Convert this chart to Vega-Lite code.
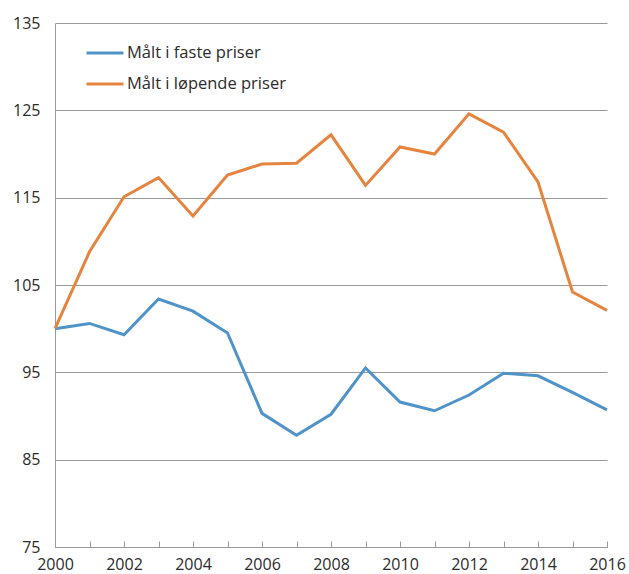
{
  "$schema": "https://vega.github.io/schema/vega-lite/v6.json",
  "width": 552,
  "height": 524,
  "autosize": {"type": "none"},
  "padding": {"left": 55, "top": 23, "right": 22, "bottom": 27},
  "background": "white",
  "config": {
    "view": {"stroke": null},
    "font": "Open Sans",
    "axis": {"labelFont": "Open Sans", "labelColor": "#2b2b2b", "labelFontSize": 16}
  },
  "data": {
    "values": [
      {"year": 2000, "serie": "Målt i faste priser", "value": 100.0},
      {"year": 2001, "serie": "Målt i faste priser", "value": 100.6},
      {"year": 2002, "serie": "Målt i faste priser", "value": 99.3},
      {"year": 2003, "serie": "Målt i faste priser", "value": 103.4},
      {"year": 2004, "serie": "Målt i faste priser", "value": 102.0},
      {"year": 2005, "serie": "Målt i faste priser", "value": 99.5},
      {"year": 2006, "serie": "Målt i faste priser", "value": 90.3},
      {"year": 2007, "serie": "Målt i faste priser", "value": 87.8},
      {"year": 2008, "serie": "Målt i faste priser", "value": 90.2},
      {"year": 2009, "serie": "Målt i faste priser", "value": 95.5},
      {"year": 2010, "serie": "Målt i faste priser", "value": 91.6},
      {"year": 2011, "serie": "Målt i faste priser", "value": 90.6},
      {"year": 2012, "serie": "Målt i faste priser", "value": 92.4},
      {"year": 2013, "serie": "Målt i faste priser", "value": 94.9},
      {"year": 2014, "serie": "Målt i faste priser", "value": 94.6},
      {"year": 2015, "serie": "Målt i faste priser", "value": 92.7},
      {"year": 2016, "serie": "Målt i faste priser", "value": 90.7},
      {"year": 2000, "serie": "Målt i løpende priser", "value": 100.0},
      {"year": 2001, "serie": "Målt i løpende priser", "value": 108.8},
      {"year": 2002, "serie": "Målt i løpende priser", "value": 115.1},
      {"year": 2003, "serie": "Målt i løpende priser", "value": 117.3},
      {"year": 2004, "serie": "Målt i løpende priser", "value": 112.9},
      {"year": 2005, "serie": "Målt i løpende priser", "value": 117.6},
      {"year": 2006, "serie": "Målt i løpende priser", "value": 118.85},
      {"year": 2007, "serie": "Målt i løpende priser", "value": 118.95},
      {"year": 2008, "serie": "Målt i løpende priser", "value": 122.2},
      {"year": 2009, "serie": "Målt i løpende priser", "value": 116.4},
      {"year": 2010, "serie": "Målt i løpende priser", "value": 120.8},
      {"year": 2011, "serie": "Målt i løpende priser", "value": 120.0},
      {"year": 2012, "serie": "Målt i løpende priser", "value": 124.6},
      {"year": 2013, "serie": "Målt i løpende priser", "value": 122.5},
      {"year": 2014, "serie": "Målt i løpende priser", "value": 116.8},
      {"year": 2015, "serie": "Målt i løpende priser", "value": 104.2},
      {"year": 2016, "serie": "Målt i løpende priser", "value": 102.1}
    ]
  },
  "mark": {"type": "line", "strokeWidth": 3},
  "encoding": {
    "x": {
      "field": "year",
      "type": "quantitative",
      "scale": {"domain": [2000, 2016], "nice": false, "zero": false},
      "axis": {
        "title": null,
        "values": [2000, 2001, 2002, 2003, 2004, 2005, 2006, 2007, 2008, 2009, 2010, 2011, 2012, 2013, 2014, 2015, 2016],
        "labelExpr": "datum.value % 2 == 0 ? datum.value : ''",
        "grid": false,
        "domainColor": "#9a9a9a",
        "tickColor": "#9a9a9a",
        "tickSize": -6,
        "labelPadding": 15,
        "labelFlush": false,
        "labelOverlap": false
      }
    },
    "y": {
      "field": "value",
      "type": "quantitative",
      "scale": {"domain": [75, 135], "nice": false, "zero": false},
      "axis": {
        "title": null,
        "values": [75, 85, 95, 105, 115, 125, 135],
        "ticks": false,
        "labelPadding": 15,
        "domainColor": "#9a9a9a",
        "gridColor": "#9a9a9a",
        "gridOpacity": 1
      }
    },
    "color": {
      "field": "serie",
      "type": "nominal",
      "scale": {
        "domain": ["Målt i faste priser", "Målt i løpende priser"],
        "range": ["#4f93c9", "#e5843f"]
      },
      "legend": {
        "title": null,
        "orient": "none",
        "legendX": 30,
        "legendY": 10,
        "symbolType": "stroke",
        "symbolSize": 1369,
        "symbolStrokeWidth": 3,
        "labelFontSize": 16.5,
        "labelColor": "#2b2b2b",
        "labelFont": "Open Sans",
        "rowPadding": 2,
        "labelOffset": 2
      }
    }
  }
}
